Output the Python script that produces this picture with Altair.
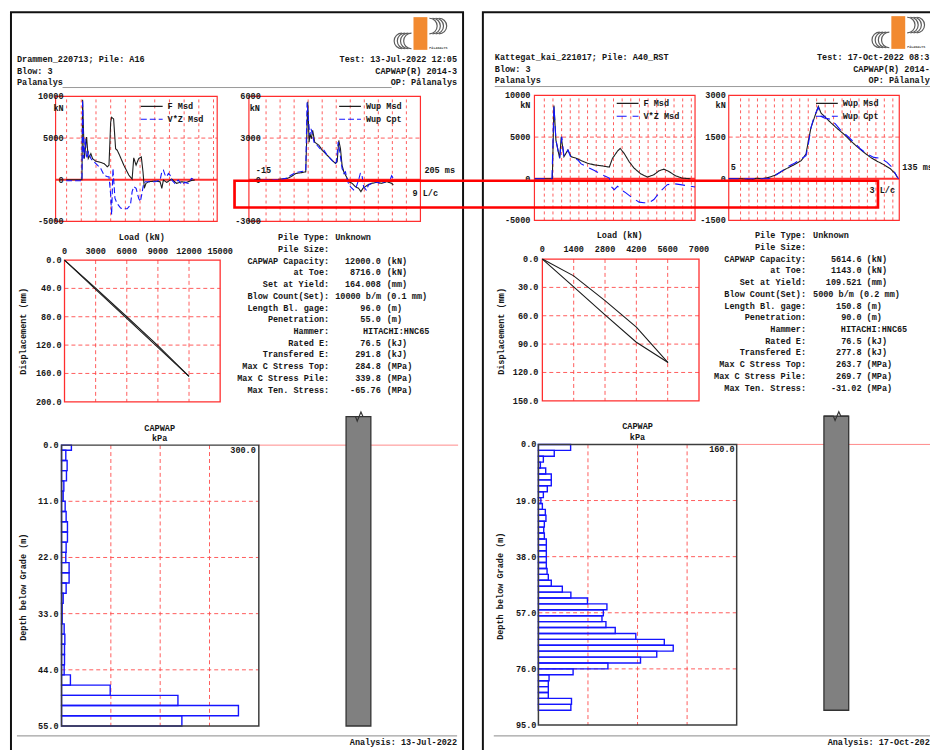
import altair as alt
import pandas as pd

# ------------------------------------------------------------------
# Values (two CAPWAP report pages)
# ------------------------------------------------------------------
# ---- Left page: Drammen_220713, pile A16 ----
L_F_t = [-0.6, 20.9, 21.8, 24.1, 27.2, 29.5, 33.0, 35.3, 39.8, 44.3, 51.0, 55.5, 57.7, 60.0, 61.3,
         64.0, 66.7, 69.0, 72.1, 77.9, 84.7, 89.2, 91.4, 94.6, 98.1, 101.7, 104.0, 105.8, 108.0,
         111.6, 120.6, 127.3, 129.6, 131.8, 136.3, 143.0, 149.8, 156.5, 163.3, 170.0, 174.5]
L_F_v = [0, 0, 9600, 2540, 5120, 2540, 3140, 2540, 2220, 2140, 1940, 1550, 1750, 6900, 7500,
         7300, 3730, 3530, 2940, 1750, 560, 80, 2620, 1750, 2540, 2740, 950, -1030, -440,
         -240, -160, -240, -1030, -40, -320, 80, -440, -240, -320, -80, -40]
L_VZ_t = [-0.6, 20.9, 21.8, 23.2, 25.4, 27.2, 29.9, 33.0, 37.5, 42.0, 46.5, 51.0, 55.5, 57.7,
          60.0, 61.3, 63.1, 65.8, 67.6, 70.3, 73.5, 77.9, 82.4, 86.9, 89.2, 91.4, 94.6, 98.1,
          100.4, 102.6, 104.9, 107.1, 113.9, 120.6, 127.3, 129.6, 131.8, 134.1, 136.3, 138.6,
          140.8, 143.0, 147.5, 152.0, 156.5, 161.0, 165.5, 170.0, 172.2]
L_VZ_v = [-120, -120, 9600, 2540, 4920, 2540, 3330, 2540, 2140, 1750, 1350, 560, 360, 360,
          -1830, -4210, 1350, -2220, -2620, -3020, -3410, -3490, -3490, -3020, -1430, -830, -1030, -2220,
          -2620, -1630, -440, -240, -240, -240, -40, 950, 1150, 560, 360, 750,
          560, -40, -440, -40, -560, -320, -440, 160, 80]
L_Wm_t = [-7.8, 4.9, 21.9, 34.6, 38.8, 45.2, 53.7, 57.9, 60.5, 62.2, 63.4, 65.1, 66.8, 69.4, 71.9,
          74.9, 79.1, 83.3, 87.6, 91.8, 96.1, 98.2, 100.3, 102.4, 104.5, 106.7, 110.1, 113.0, 117.3,
          121.5, 125.7, 128.7, 131.2, 134.2, 138.5, 142.7, 149.1, 155.4, 161.8, 168.1, 170.2]
L_Wm_v = [0, -20, 20, 100, 210, 450, 520, 570, 5620, 2710, 3310, 2950, 3550, 2710, 2600,
          2480, 2120, 1880, 1640, 1400, 1170, 1290, 2830, 2240, 1050, 570, 210, -140, -260,
          -500, -620, -860, -620, -500, -330, -260, -190, -260, -140, -260, -380]
L_Wc_t = [-7.8, 26.1, 34.6, 38.8, 45.2, 55.8, 57.9, 59.6, 61.3, 63.0, 64.7, 66.4, 68.5, 71.9,
          76.1, 81.2, 85.5, 89.7, 94.8, 97.3, 99.5, 101.6, 104.5, 106.7, 108.8, 111.7, 115.1,
          119.4, 122.8, 125.7, 127.9, 130.0, 132.1, 135.5, 138.5, 142.7, 146.9, 153.3, 159.6,
          166.0, 168.1, 170.2]
L_Wc_v = [-20, 20, 140, 330, 520, 620, 690, 5570, 4380, 3190, 3670, 3310, 2710, 2520,
          2240, 2120, 1760, 1520, 1170, 1290, 2710, 2000, 810, 450, 570, -140, -500,
          -740, -500, -20, 450, 330, -500, -740, -380, -260, -140, -260, -140,
          -20, 290, 100]
L_force_grid = [0, 20, 40, 60, 80, 100, 120, 140, 160, 180, 200]
L_wave_grid = [7, 25, 43, 61, 79, 97, 115, 133, 151, 169, 187]
L_force_ticks = [10000, 5000, 0, -5000]
L_wave_ticks = [6000, 3000, 0, -3000]
L_load_ticks = [0, 3000, 6000, 9000, 12000, 15000]
L_disp_ticks = [0, 40, 80, 120, 160, 200]
L_load_curve = [0, 3000, 6000, 9000, 12000]
L_disp_upper = [0, 39.5, 80.0, 120.8, 164.008]
L_disp_lower = [0, 41.3, 82.3, 123.3, 164.008]
L_depth_ticks = [0, 11, 22, 33, 44, 55]
L_kpa_grid = [75, 150, 225]
L_seg_top = [0, 1, 3, 5, 7, 9, 11, 13, 15, 17, 19, 21, 23, 25, 27, 29, 31, 33, 35, 37, 39, 41,
             43, 45, 47, 49, 51, 53]
L_seg_bot = [1, 3, 5, 7, 9, 11, 13, 15, 17, 19, 21, 23, 25, 27, 29, 31, 33, 35, 37, 39, 41, 43,
             45, 47, 49, 51, 53, 55]
L_skin = [15, 6.5, 8.5, 7.5, 3.5, 2.5, 5.5, 7, 9, 9, 7, 6.5, 11.5, 11.5, 7, 2.5, 1, 1, 4, 5,
          4.5, 4.5, 4, 13.5, 74, 177, 269, 183]
L_nums = ["", "", "12000.0", "8716.0", "164.008", "", "96.0", "55.0", "", "76.5", "291.8",
          "284.8", "339.8", "-65.76"]
L_units = ["", "", "(kN)", "(kN)", "(mm)", "", "(m)", "(m)", "", "(kJ)", "(kJ)", "(MPa)",
           "(MPa)", "(MPa)"]
L_free = ["Unknown", "", "", "", "", "10000 b/m (0.1 mm)", "", "", "", "", "", "", "", ""]
L_hammer = ["", "", "", "", "", "", "", "", "HITACHI:HNC65", "", "", "", "", ""]

# ---- Right page: Kattegat_kai_221017, pile A40_RST ----
R_F_t = [5.3, 19.5, 20.8, 22.4, 25.4, 26.7, 28.9, 32.1, 34.7, 38.8, 42.8, 48.1, 53.5, 60.2, 65.6,
         68.2, 72.3, 74.4, 77.6, 81.6, 85.7, 91.0, 96.4, 101.7, 105.8, 109.8, 113.8, 119.2, 124.5,
         131.2]
R_F_v = [0, 0, 8790, 4630, 2460, 5030, 2650, 3450, 2650, 2460, 2180, 1860, 1660, 1540, 1390,
         2460, 3330, 3640, 3050, 2060, 1270, 590, 200, 480, 950, 1150, 870, 360, 80, 0]
R_VZ_t = [5.3, 19.2, 20.8, 22.4, 25.4, 27.2, 28.9, 32.1, 34.2, 37.4, 40.1, 42.8, 48.1, 53.5,
          57.5, 61.5, 65.6, 66.9, 69.6, 72.3, 75.0, 79.0, 84.3, 89.7, 93.7, 97.7, 101.7, 107.1,
          112.5, 117.8, 123.2, 128.5, 135.0]
R_VZ_v = [0, 0, 8790, 4630, 2460, 5030, 2650, 3450, 2650, 2460, 2260, 1780, 1390, 990,
          670, 360, 80, -910, -1310, -910, -1310, -1700, -2300, -2810, -2890, -2890, -2500, -1500,
          -710, -590, -710, -830, -990]
R_Wm_t = [5.0, 14.8, 22.4, 26.2, 30.0, 35.0, 40.0, 45.1, 50.1, 55.1, 60.2, 63.9, 65.7, 67.7,
          70.2, 73.3, 75.3, 79.1, 82.8, 87.9, 92.9, 98.0, 103.0, 108.0, 113.1, 118.1, 123.1,
          128.2, 132.0, 133.7]
R_Wm_v = [0, 0, -40, 20, 0, 40, 120, 260, 390, 510, 650, 890, 1360, 1840,
          2190, 2610, 2370, 2190, 2020, 1800, 1600, 1360, 1150, 950, 770, 630, 510,
          360, 180, 40]
R_Wc_t = [5.0, 35.0, 37.5, 42.5, 46.3, 50.1, 55.1, 60.2, 63.9, 65.7, 67.7, 70.2, 73.3, 75.3,
          77.8, 82.8, 86.6, 90.4, 95.4, 100.5, 105.5, 110.5, 115.6, 120.6, 125.7, 129.4, 133.2,
          134.5]
R_Wc_v = [0, 0, 40, 180, 300, 440, 560, 710, 830, 1250, 1840, 2250, 2570, 2250,
          2190, 2140, 1960, 1740, 1540, 1310, 1070, 890, 770, 740, 590, 420, 80, 0]
R_force_grid = [13, 20, 27, 34, 41, 48, 55, 62, 69, 76, 83, 90, 97, 104, 111, 118, 125, 132]
R_wave_grid = [14, 20.4, 26.9, 33.3, 39.8, 46.2, 52.7, 59.1, 65.6, 72.0, 78.5, 84.9, 91.4, 97.8,
               104.3, 110.7, 117.2, 123.6, 130.1]
R_force_ticks = [10000, 5000, 0, -5000]
R_wave_ticks = [3000, 1500, 0, -1500]
R_load_ticks = [0, 1400, 2800, 4200, 5600, 7000]
R_disp_ticks = [0, 30, 60, 90, 120, 150]
R_load_curve = [0, 1400, 2800, 4200, 5614.6]
R_disp_upper = [0, 17.8, 44.0, 72.0, 109.521]
R_disp_lower = [0, 29.4, 59.0, 88.0, 109.521]
R_depth_ticks = [0, 19, 38, 57, 76, 95]
R_kpa_grid = [40, 80, 120]
R_seg_top = [0, 2, 4, 6, 8, 10, 12, 14, 16, 18, 20, 22, 24, 26, 28, 30, 32, 34, 36, 38, 40, 42,
             44, 46, 48, 50, 52, 54, 56, 58, 60, 62, 64, 66, 68, 70, 72, 74, 76, 78, 80, 82, 84,
             86, 88]
R_seg_bot = [2, 4, 6, 8, 10, 12, 14, 16, 18, 20, 22, 24, 26, 28, 30, 32, 34, 36, 38, 40, 42, 44,
             46, 48, 50, 52, 54, 56, 58, 60, 62, 64, 66, 68, 70, 72, 74, 76, 78, 80, 82, 84, 86,
             88, 90]
R_skin = [26, 12.8, 4, 1.6, 5.9, 10.4, 10.4, 7.2, 4, 2, 3.2, 5.6, 6.1, 4.8, 4.3, 4.8, 6.4, 6.4,
          6.4, 6.4, 6.4, 7, 8, 10.4, 19.3, 26.2, 39.6, 55.3, 52.4, 51.3, 54.5, 62, 78.6, 101.6,
          108.8, 95.5, 82.4, 56.1, 28, 8.6, 8, 8, 8, 26.7, 26.2]
R_nums = ["", "", "5614.6", "1143.0", "109.521", "", "150.8", "90.0", "", "76.5", "277.8",
          "263.7", "269.7", "-31.02"]
R_units = L_units
R_free = ["Unknown", "", "", "", "", "5000 b/m (0.2 mm)", "", "", "", "", "", "", "", ""]
R_hammer = L_hammer

INFO_LABELS = ["Pile Type:", "Pile Size:", "CAPWAP Capacity:", "at Toe:", "Set at Yield:",
               "Blow Count(Set):", "Length Bl. gage:", "Penetration:", "Hammer:", "Rated E:",
               "Transfered E:", "Max C Stress Top:", "Max C Stress Pile:", "Max Ten. Stress:"]

# ------------------------------------------------------------------
FONT = "Liberation Mono"
FS = 8.6
INK = "#161616"
RED = "#ff2e2e"
GRIDC = "#ff4a4a"
BLUE = "#1414ff"
W, H = 930, 742


def one():
    return pd.DataFrame({"k": [0]})


def txt(s, x, y, align="left", baseline="alphabetic", size=FS, angle=0, color=INK, font=FONT):
    kw = dict(align=align, baseline=baseline, font=font, fontSize=size, fontWeight="bold", color=color)
    if angle:
        kw["angle"] = angle
    return alt.Chart(pd.DataFrame({"s": [s]})).mark_text(**kw).encode(
        text="s:N", x=alt.value(x), y=alt.value(y))


def hline(x1, x2, y, color, width):
    return alt.Chart(one()).mark_rule(color=color, strokeWidth=width).encode(
        x=alt.value(x1), x2=alt.value(x2), y=alt.value(y))


def frame(x1, y1, x2, y2, color, width):
    return alt.Chart(one()).mark_rect(fillOpacity=0, stroke=color, strokeWidth=width).encode(
        x=alt.value(x1), x2=alt.value(x2), y=alt.value(y1), y2=alt.value(y2))


def scales(xdom, xr, ydom, yr):
    xs = alt.Scale(domain=xdom, range=xr, nice=False, zero=False)
    ys = alt.Scale(domain=ydom, range=yr, nice=False, zero=False)
    return (lambda f: alt.X(f, scale=xs, axis=None)), (lambda f: alt.Y(f, scale=ys, axis=None))


def grid_layers(X, Y, xdom, ydom, xgrid, ygrid, dash=(3, 3)):
    out = []
    if xgrid:
        vg = pd.DataFrame({"g": xgrid, "a": ydom[0], "b": ydom[1]})
        out.append(alt.Chart(vg).mark_rule(color=GRIDC, strokeDash=list(dash), strokeWidth=0.9).encode(
            x=X("g:Q"), y=Y("a:Q"), y2="b"))
    if ygrid:
        hg = pd.DataFrame({"g": ygrid, "a": xdom[0], "b": xdom[1]})
        out.append(alt.Chart(hg).mark_rule(color=GRIDC, strokeDash=[4, 3], strokeWidth=0.9).encode(
            y=Y("g:Q"), x=X("a:Q"), x2="b"))
    return out


def box_layer(X, Y, xdom, ydom, color, width):
    fr = pd.DataFrame({"x0": [xdom[0]], "x1": [xdom[1]], "y0": [ydom[0]], "y1": [ydom[1]]})
    return alt.Chart(fr).mark_rect(fillOpacity=0, stroke=color, strokeWidth=width).encode(
        x=X("x0:Q"), x2="x1", y=Y("y0:Q"), y2="y1")


def trace_panel(traces, dash, xdom, xr, ydom, yr, xgrid, ygrid, ticks, tick_x, leg_x, leg_y):
    X, Y = scales(xdom, xr, ydom, yr)
    names = [n for n, _, _ in traces]
    rows = []
    for n, ts, vs in traces:
        rows += [{"t": a, "v": b, "s": n} for a, b in zip(ts, vs)]
    df = pd.DataFrame(rows)
    zl = pd.DataFrame({"g": [0], "a": [xdom[0]], "b": [xdom[1]]})
    tk = pd.DataFrame({"v": ticks, "lab": [str(k) for k in ticks]})
    leg = alt.Legend(orient="none", legendX=leg_x, legendY=leg_y, title=None, symbolType="stroke",
                     symbolSize=484, symbolStrokeWidth=1.2, labelFont=FONT, labelFontSize=FS,
                     labelFontWeight="bold", labelColor=INK, clipHeight=13, rowPadding=0,
                     padding=0, labelOffset=4)
    parts = grid_layers(X, Y, xdom, ydom, xgrid, ygrid)
    parts += [
        alt.Chart(zl).mark_rule(color=RED, strokeWidth=2.2).encode(y=Y("g:Q"), x=X("a:Q"), x2="b"),
        box_layer(X, Y, xdom, ydom, RED, 1.2),
        alt.Chart(df).mark_line(strokeWidth=1.1).encode(
            x=X("t:Q"), y=Y("v:Q"),
            color=alt.Color("s:N", scale=alt.Scale(domain=names, range=["#1e1e1e", BLUE]), legend=leg),
            strokeDash=alt.StrokeDash("s:N", scale=alt.Scale(domain=names, range=[[1, 0], dash]),
                                      legend=leg)),
        alt.Chart(tk).mark_text(align="right", baseline="middle", font=FONT, fontSize=FS,
                                fontWeight="bold", color=INK).encode(
            y=Y("v:Q"), x=alt.value(tick_x), text="lab:N"),
    ]
    return alt.layer(*parts)


def load_panel(xdom, xr, ydom, yr, xticks, yticks, loads, upper, lower, xlab_y, ylab_x):
    X, Y = scales(xdom, xr, ydom, yr)
    curve = pd.DataFrame({"load": loads + loads, "disp": upper + lower,
                          "branch": ["a"] * len(loads) + ["b"] * len(loads)})
    xt = pd.DataFrame({"v": xticks, "lab": [str(k) for k in xticks]})
    yt = pd.DataFrame({"v": yticks, "lab": [f"{k:.1f}" for k in yticks]})
    parts = grid_layers(X, Y, xdom, ydom, xticks[1:-1], yticks[1:-1], dash=(4, 3))
    parts += [
        box_layer(X, Y, xdom, ydom, RED, 1.3),
        alt.Chart(curve).mark_line(color="#1a1a1a", strokeWidth=1.1).encode(
            x=X("load:Q"), y=Y("disp:Q"), detail="branch:N"),
        alt.Chart(xt).mark_text(align="center", baseline="middle", font=FONT, fontSize=FS,
                                fontWeight="bold", color=INK).encode(
            x=X("v:Q"), y=alt.value(xlab_y), text="lab:N"),
        alt.Chart(yt).mark_text(align="right", baseline="middle", font=FONT, fontSize=FS,
                                fontWeight="bold", color=INK).encode(
            y=Y("v:Q"), x=alt.value(ylab_x), text="lab:N"),
    ]
    return alt.layer(*parts)


def capwap_panel(xdom, xr, ydom, yr, kgrid, dticks, tops, bots, skin, ylab_x, ground_x2):
    X, Y = scales(xdom, xr, ydom, yr)
    bars = pd.DataFrame({"top": tops, "bot": bots, "val": skin, "base": 0})
    yt = pd.DataFrame({"v": dticks, "lab": [f"{k:.1f}" for k in dticks]})
    gl = pd.DataFrame({"g": [0]})
    parts = grid_layers(X, Y, xdom, ydom, kgrid, dticks[1:-1], dash=(4, 3))
    parts += [
        alt.Chart(gl).mark_rule(color="#ff8a8a", strokeWidth=1).encode(
            y=Y("g:Q"), x=alt.value(xr[1]), x2=alt.value(ground_x2)),
        alt.Chart(bars).mark_rect(fillOpacity=0, stroke=BLUE, strokeWidth=1.4).encode(
            x=X("base:Q"), x2="val", y=Y("top:Q"), y2="bot"),
        box_layer(X, Y, xdom, ydom, "#3c3c3c", 1.5),
        alt.Chart(yt).mark_text(align="right", baseline="middle", font=FONT, fontSize=FS,
                                fontWeight="bold", color=INK).encode(
            y=Y("v:Q"), x=alt.value(ylab_x), text="lab:N"),
    ]
    return alt.layer(*parts)


def pile_panel(xr, ydom, yr, top, bottom, amp):
    X, Y = scales([0, 1], xr, ydom, yr)
    body = pd.DataFrame({"a": [0], "b": [1], "top": [top], "bot": [bottom]})
    zz = pd.DataFrame({"i": [0, 1, 2, 3, 4, 5], "f": [0, 0.38, 0.45, 0.6, 0.68, 1.0],
                       "d": [top, top, top + amp, top - amp, top, top]})
    return alt.layer(
        alt.Chart(body).mark_rect(fill="#808080", stroke="#333333", strokeWidth=1.3).encode(
            x=X("a:Q"), x2="b", y=Y("top:Q"), y2="bot"),
        alt.Chart(zz).mark_line(color="#333333", strokeWidth=1.2).encode(
            x=X("f:Q"), y=Y("d:Q"), order="i:Q"),
    )


def info_block(nums, units, free, hammer, x_lab, x_free, x_ham, x_num, x_unit, y0, y1):
    n = len(INFO_LABELS)
    ys = alt.Scale(domain=[0, n - 1], range=[y0, y1], nice=False, zero=False)
    df = pd.DataFrame({"r": list(range(n)), "lab": INFO_LABELS, "num": nums, "unit": units,
                       "free": free, "ham": hammer})

    def col(field, x, align):
        return alt.Chart(df).mark_text(align=align, baseline="middle", font=FONT, fontSize=FS,
                                       fontWeight="bold", color=INK).encode(
            y=alt.Y("r:Q", scale=ys, axis=None), x=alt.value(x), text=f"{field}:N")

    return alt.layer(col("lab", x_lab, "right"), col("free", x_free, "left"),
                     col("ham", x_ham, "left"), col("num", x_num, "right"),
                     col("unit", x_unit, "left"))


def logo(x0, y0):
    parts = [alt.Chart(one()).mark_rect(fill="#f28a30").encode(
        x=alt.value(x0), x2=alt.value(x0 + 14), y=alt.value(y0), y2=alt.value(y0 + 33))]
    for k in range(4):
        parts.append(alt.Chart(one()).mark_arc(radius=8.5, radius2=7.3, theta=3.1416, theta2=6.2832,
                                               color="#5c5c5c").encode(
            x=alt.value(x0 - 2 - 3.2 * k), y=alt.value(y0 + 24)))
        parts.append(alt.Chart(one()).mark_arc(radius=8.5, radius2=7.3, theta=0.0, theta2=3.1416,
                                               color="#5c5c5c").encode(
            x=alt.value(x0 + 16 + 3.2 * k), y=alt.value(y0 + 9)))
    parts.append(txt("PÅLANALYS", x0 + 16, y0 + 32, size=3.4, color="#555555"))
    return parts


layers = []

# ---------------- page frames ----------------
layers.append(frame(3, 1, 459, 780, "#111111", 2))
layers.append(frame(479, 1, 980, 780, "#111111", 2))

# ---------------- left page ----------------
layers += logo(409, 6)
layers += [
    txt("Drammen_220713; Pile: A16", 9, 51), txt("Blow: 3", 9, 63), txt("Palanalys", 9, 74),
    txt("Test: 13-Jul-2022 12:05", 453, 51, align="right"),
    txt("CAPWAP(R) 2014-3", 453, 63, align="right"),
    txt("OP: Pålanalys", 453, 74, align="right"),
    hline(55, 387, 77, "#9a9a9a", 1),
]
layers.append(trace_panel([("F Msd", L_F_t, L_F_v), ("V*Z Msd", L_VZ_t, L_VZ_v)], [6, 3],
                          [-15, 205], [48, 211], [-5000, 10000], [212, 86], L_force_grid, [5000],
                          L_force_ticks, 56, 133, 89.5))
layers.append(trace_panel([("Wup Msd", L_Wm_t, L_Wm_v), ("Wup Cpt", L_Wc_t, L_Wc_v)], [6, 3],
                          [-15, 205], [243, 416], [-3000, 6000], [212, 86], L_wave_grid, [3000],
                          L_wave_ticks, 255, 333, 89.5))
layers += [
    txt("kN", 51, 98, align="center", baseline="middle"),
    txt("kN", 249, 98, align="center", baseline="middle"),
    txt("-15", 250, 160, baseline="middle"),
    txt("205 ms", 420, 160, baseline="middle"),
    txt("9 L/c", 408, 183, baseline="middle"),
]
layers.append(load_panel([0, 15000], [57, 214], [0, 200], [251, 394], L_load_ticks, L_disp_ticks,
                         L_load_curve, L_disp_upper, L_disp_lower, 241.5, 54))
layers += [
    txt("Load (kN)", 135, 228, align="center", baseline="middle"),
    txt("Displacement (mm)", 15, 323, align="center", baseline="middle", angle=270),
]
layers.append(info_block(L_nums, L_units, L_free, L_hammer, 324, 330, 358, 376, 382, 228, 381.7))
layers.append(capwap_panel([0, 300], [54, 253], [0, 55], [437.7, 721], L_kpa_grid, L_depth_ticks,
                           L_seg_top, L_seg_bot, L_skin, 51, 454))
layers.append(pile_panel([341, 366], [0, 55], [437.7, 721], -5.6, 55, 0.9))
layers += [
    txt("CAPWAP", 153, 420, align="center", baseline="middle"),
    txt("kPa", 153, 431, align="center", baseline="middle"),
    txt("300.0", 250, 443, align="right", baseline="middle"),
    txt("Depth below Grade (m)", 15, 581, align="center", baseline="middle", angle=270),
    hline(9, 453, 731, "#8a8a8a", 1),
    txt("Analysis: 13-Jul-2022", 453, 740, align="right"),
]

# ---------------- right page ----------------
layers += logo(891, 5)
layers += [
    txt("Kattegat_kai_221017; Pile: A40_RST", 491, 49), txt("Blow: 3", 491, 61),
    txt("Palanalys", 491, 72),
    txt("Test: 17-Oct-2022 08:3", 816, 49),
    txt("CAPWAP(R) 2014-3", 935, 61, align="right"),
    txt("OP: Pålanalys", 935, 72, align="right"),
    hline(491, 930, 76, "#9a9a9a", 1),
]
layers.append(trace_panel([("F Msd", R_F_t, R_F_v), ("V*Z Msd", R_VZ_t, R_VZ_v)], [10, 6],
                          [5, 135], [531, 693], [-5000, 10000], [211, 85], R_force_grid, [5000],
                          R_force_ticks, 527, 613, 86.5))
layers.append(trace_panel([("Wup Msd", R_Wm_t, R_Wm_v), ("Wup Cpt", R_Wc_t, R_Wc_v)], [10, 6],
                          [5, 135], [727, 899], [-1500, 3000], [211, 85], R_wave_grid, [1500],
                          R_wave_ticks, 724, 814, 86.5))
layers += [
    txt("kN", 527, 95, align="right", baseline="middle"),
    txt("kN", 724, 95, align="right", baseline="middle"),
    txt("5", 729, 157, baseline="middle"),
    txt("135 ms", 902, 157, baseline="middle"),
    txt("3 L/c", 869, 180, baseline="middle"),
]
layers.append(load_panel([0, 7000], [539, 697], [0, 150], [250, 393], R_load_ticks, R_disp_ticks,
                         R_load_curve, R_disp_upper, R_disp_lower, 239.7, 535))
layers += [
    txt("Load (kN)", 617, 226, align="center", baseline="middle"),
    txt("Displacement (mm)", 497, 323, align="center", baseline="middle", angle=270),
]
layers.append(info_block(R_nums, R_units, R_free, R_hammer, 805, 812, 840, 861, 866, 226, 379.7))
layers.append(capwap_panel([0, 160], [535, 735], [0, 95], [437, 720], R_kpa_grid, R_depth_ticks,
                           R_seg_top, R_seg_bot, R_skin, 533, 930))
layers.append(pile_panel([823, 848], [0, 95], [437, 720], -9.6, 90, 1.5))
layers += [
    txt("CAPWAP", 635, 418, align="center", baseline="middle"),
    txt("kPa", 635, 430, align="center", baseline="middle"),
    txt("160.0", 733, 442, align="right", baseline="middle"),
    txt("Depth below Grade (m)", 496, 580, align="center", baseline="middle", angle=270),
    hline(490, 930, 731, "#8a8a8a", 1),
    txt("Analysis: 17-Oct-2022", 935, 740, align="right"),
]

# ---------------- red highlight rectangle ----------------
layers.append(frame(228.5, 171, 877.5, 198, "#ff0000", 2.7))

chart = alt.layer(*layers).resolve_scale(
    x="independent", y="independent", color="independent", strokeDash="independent"
).resolve_legend(color="independent", strokeDash="independent").properties(
    width=W, height=H, padding=0, autosize=alt.AutoSizeParams(type="none")
).configure_view(strokeWidth=0)

chart.save("out.html", embed_options={"renderer": "svg", "actions": False})
